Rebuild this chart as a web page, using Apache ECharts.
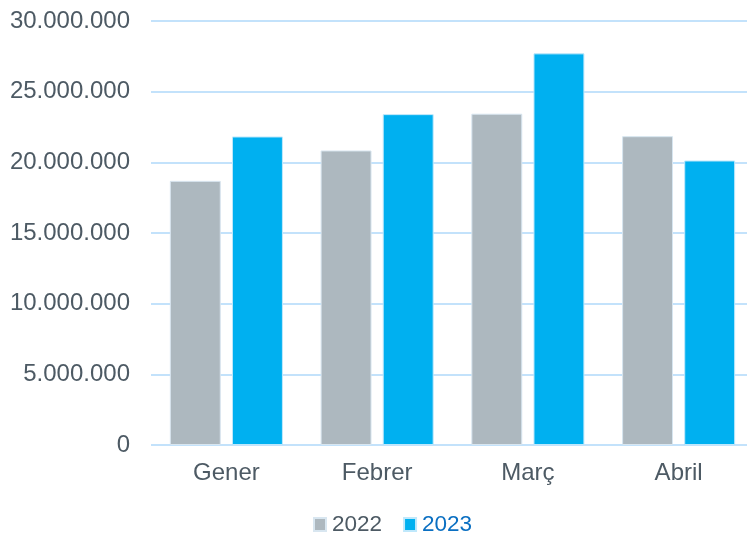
<!DOCTYPE html>
<html>
<head>
<meta charset="utf-8">
<script src="https://cdn.jsdelivr.net/npm/echarts@6/dist/echarts.min.js"></script>
<style>html,body{margin:0;padding:0;background:#fff;overflow:hidden;width:747px;height:535px}#c{width:754px;height:535px}</style>
</head>
<body>
<div id="c"></div>
<script>
var categories = ['Gener', 'Febrer', 'Març', 'Abril'];
var values2022 = [18690000, 20840000, 23440000, 21850000];
var values2023 = [21830000, 23410000, 27710000, 20130000];
var yTicks = [0, 5000000, 10000000, 15000000, 20000000, 25000000, 30000000];

function fmt(v) {
  return String(Math.round(v)).replace(/\B(?=(\d{3})+(?!\d))/g, '.');
}

var chart = echarts.init(document.getElementById('c'), null, {renderer: 'canvas'});
chart.setOption({
  animation: false,
  textStyle: {fontFamily: 'Liberation Sans, Arial, sans-serif'},
  grid: {left: 151, right: 0, top: 21, bottom: 90, containLabel: false},
  legend: {
    top: 508,
    left: 308,
    icon: 'rect',
    itemWidth: 12,
    itemHeight: 13,
    itemGap: 21,
    textStyle: {fontSize: 22.5, padding: [0, 0, 0, 1], fontFamily: 'Liberation Sans, Arial, sans-serif'},
    data: [
      {name: '2022', textStyle: {color: '#4d5a64'}},
      {name: '2023', textStyle: {color: '#0a6fc2'}}
    ]
  },
  xAxis: {
    type: 'category',
    data: categories,
    axisLine: {show: false},
    axisTick: {show: false},
    axisLabel: {color: '#4d5a64', fontSize: 24, margin: 16}
  },
  yAxis: {
    type: 'value',
    min: yTicks[0],
    max: yTicks[yTicks.length - 1],
    interval: yTicks[1] - yTicks[0],
    axisLine: {show: false},
    axisTick: {show: false},
    axisLabel: {color: '#4d5a64', fontSize: 24, margin: 21, formatter: fmt},
    splitLine: {lineStyle: {color: '#c3e2fb', width: 2}}
  },
  series: [
    {
      name: '2022', type: 'bar', data: values2022,
      barGap: '22%', barCategoryGap: '25%',
      itemStyle: {color: '#adb8bf', borderColor: '#d8e6f0', borderWidth: 1}
    },
    {
      name: '2023', type: 'bar', data: values2023,
      barGap: '22%', barCategoryGap: '25%',
      itemStyle: {color: '#00b0f0', borderColor: '#bfe8fb', borderWidth: 1}
    }
  ]
});
</script>
</body>
</html>
